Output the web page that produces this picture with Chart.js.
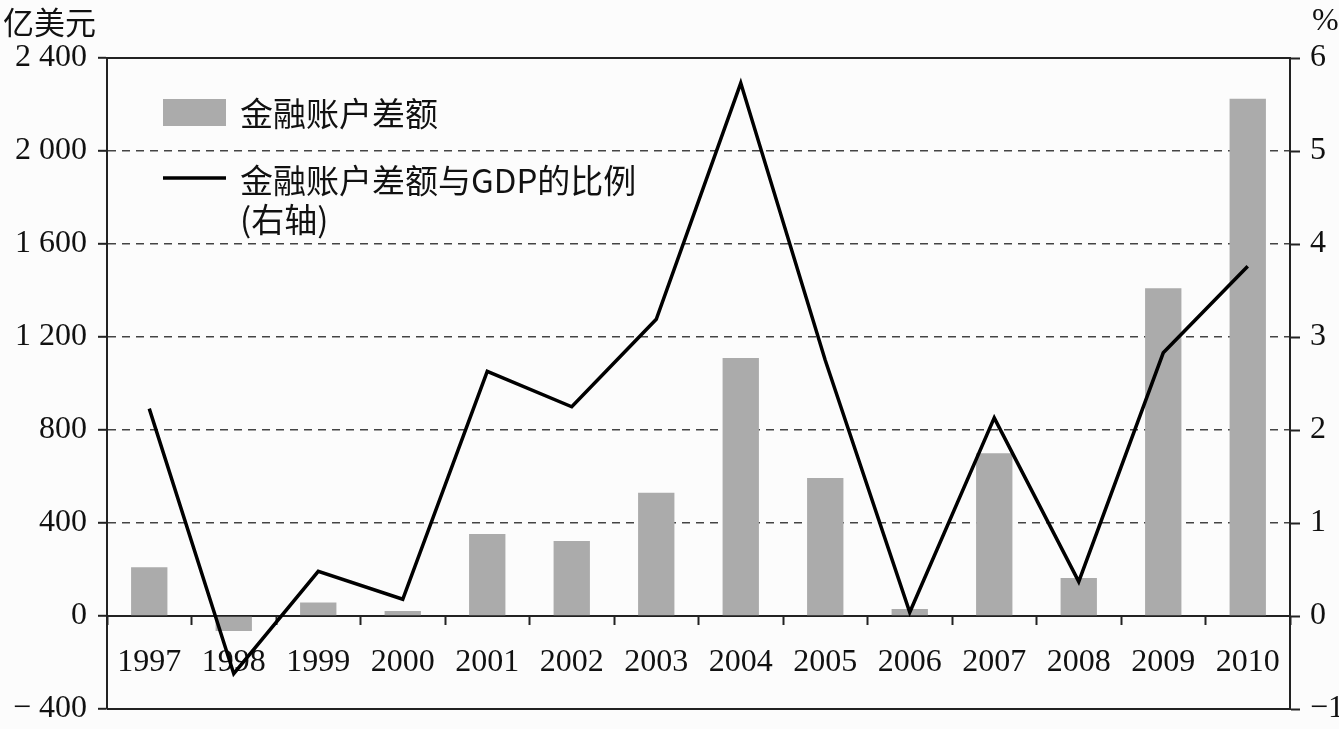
<!DOCTYPE html>
<html>
<head>
<meta charset="utf-8">
<script src="https://cdn.jsdelivr.net/npm/chart.js@4/dist/chart.umd.min.js"></script>
<style>
  body { margin: 0; background: #fcfcfc; }
  #wrap { width: 1339px; height: 729px; }
</style>
</head>
<body>
<div id="wrap"><canvas id="chart" width="1339" height="729"></canvas></div>
<script>
// data
const years = ["1997", "1998", "1999", "2000", "2001", "2002", "2003", "2004", "2005", "2006", "2007", "2008", "2009", "2010"];
const balance = [210, -65, 58, 22, 353, 323, 530, 1110, 594, 30, 700, 163, 1410, 2225];   // 亿美元
const ratioToGdp = [2.23, -0.62, 0.48, 0.18, 2.63, 2.25, 3.19, 5.73, 2.75, 0.04, 2.13, 0.37, 2.83, 3.76]; // %
const leftTicks = [-400, 0, 400, 800, 1200, 1600, 2000, 2400];
const rightTicks = [-1, 0, 1, 2, 3, 4, 5, 6];

const serif = "'Liberation Serif', 'Times New Roman', serif";
const cjk = "'Noto Sans CJK SC', sans-serif";

function fmtThousands(v) {
  const s = String(Math.abs(v));
  const body = s.length > 3 ? s.slice(0, -3) + " " + s.slice(-3) : s;
  return v < 0 ? "\u2212 " + body : body;
}

// pin the side axes so the plot box matches the original
function fixSide(width) {
  return s => {
    s.width = width;
    s.paddingTop = 0;
    s.paddingBottom = 0;
  };
}

// frame lines, unit labels and the legend
const extras = {
  id: "extras",
  afterDraw(chart) {
    const ctx = chart.ctx;
    const a = chart.chartArea;
    ctx.save();
    ctx.strokeStyle = "#222";
    ctx.lineWidth = 2;
    ctx.beginPath();
    ctx.moveTo(a.left, a.top); ctx.lineTo(a.right, a.top);
    ctx.moveTo(a.left, a.bottom); ctx.lineTo(a.right, a.bottom);
    ctx.stroke();

    ctx.fillStyle = "#111";
    ctx.textBaseline = "middle";
    ctx.font = "31px " + cjk;
    ctx.fillText("亿美元", 3, 22);
    ctx.font = "32px " + serif;
    ctx.fillText("%", 1312, 22);

    const ds = chart.data.datasets;
    ctx.fillStyle = ds[0].backgroundColor;
    ctx.fillRect(163, 99, 63, 27);
    ctx.strokeStyle = ds[1].borderColor;
    ctx.lineWidth = 3.5;
    ctx.beginPath();
    ctx.moveTo(163, 178); ctx.lineTo(226, 178);
    ctx.stroke();

    ctx.fillStyle = "#111";
    ctx.font = "33px " + cjk;
    ctx.fillText(ds[0].label, 240, 113);
    ctx.fillText(ds[1].label, 240, 180);
    ctx.fillText("(右轴)", 240, 219);
    ctx.restore();
  }
};

new Chart(document.getElementById("chart"), {
  data: {
    labels: years,
    datasets: [
      {
        type: "bar",
        label: "金融账户差额",
        data: balance,
        backgroundColor: "#ababab",
        yAxisID: "y",
        barPercentage: 0.43,
        categoryPercentage: 1,
        order: 1
      },
      {
        type: "line",
        label: "金融账户差额与GDP的比例",
        data: ratioToGdp,
        borderColor: "#000",
        borderWidth: 3.5,
        borderJoinStyle: "miter",
        pointRadius: 0,
        tension: 0,
        fill: false,
        yAxisID: "y1",
        order: 0
      }
    ]
  },
  options: {
    responsive: false,
    animation: false,
    layout: { padding: { top: 58, bottom: 20, left: 0, right: 0 } },
    plugins: { legend: { display: false }, tooltip: { enabled: false } },
    scales: {
      x: {
        type: "category",
        position: { y: 0 },
        offset: true,
        grid: { offset: true, drawOnChartArea: false, tickLength: 8, tickColor: "#222", tickWidth: 2 },
        border: { color: "#222", width: 2 },
        ticks: { color: "#111", font: { family: serif, size: 32 }, padding: 19, maxRotation: 0, autoSkip: false }
      },
      y: {
        position: "left",
        min: leftTicks[0],
        max: leftTicks[leftTicks.length - 1],
        afterBuildTicks: s => { s.ticks = leftTicks.map(v => ({ value: v })); },
        afterFit: fixSide(107),
        grid: {
          color: c => (c.tick && (c.tick.value === leftTicks[0] || c.tick.value === leftTicks[leftTicks.length - 1])) ? "rgba(0,0,0,0)" : "#444",
          lineWidth: 1.6,
          tickLength: 9,
          tickColor: "#222",
          tickWidth: 2
        },
        border: { color: "#222", width: 2, dash: [8, 6] },
        ticks: { color: "#111", font: { family: serif, size: 32 }, padding: 11, callback: v => fmtThousands(v) }
      },
      y1: {
        position: "right",
        min: rightTicks[0],
        max: rightTicks[rightTicks.length - 1],
        afterBuildTicks: s => { s.ticks = rightTicks.map(v => ({ value: v })); },
        afterFit: fixSide(49),
        grid: { drawOnChartArea: false, tickLength: 10, tickColor: "#222", tickWidth: 2 },
        border: { color: "#222", width: 2 },
        ticks: { color: "#111", font: { family: serif, size: 32 }, padding: 10, callback: v => v < 0 ? "\u2212" + Math.abs(v) : String(v) }
      }
    }
  },
  plugins: [extras]
});
</script>
</body>
</html>
